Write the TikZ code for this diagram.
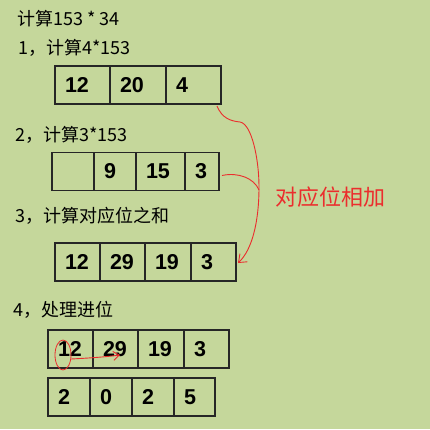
\documentclass[tikz,border=0pt]{standalone}
\usepackage{fontspec}
\newfontfamily\cjkfont{Noto Sans CJK SC}
\newfontfamily\digitfont{Liberation Sans}
\usetikzlibrary{arrows.meta, shapes.geometric, calc}
\definecolor{bgcolor}{RGB}{197,215,155}
\definecolor{markred}{RGB}{235,45,45}

\begin{document}
\begin{tikzpicture}[x=1pt, y=-1pt,
  steptext/.style={anchor=west, inner sep=0pt,
    font=\cjkfont\fontsize{18}{20}\selectfont},
  cell/.style={draw=black!85, line width=1.2pt, anchor=west, outer sep=0pt,
    inner xsep=10pt, inner ysep=0pt, minimum height=38pt, align=left,
    font=\digitfont\bfseries\fontsize{21.5}{23}\selectfont},
  brace/.style={draw=markred, line width=0.9pt},
  tipend/.style={-{Straight Barb[length=7pt, width=11pt]}},
  carrytip/.style={-{Straight Barb[length=6pt, width=9pt]}}
]

%% Hintergrund
\fill[bgcolor] (0,0) rectangle (430,429);
\useasboundingbox (0,0) rectangle (430,429);

%% Texte
\node[steptext] (title) at (17,19) {计算153 * 34};
\node[steptext] (stepa) at (18,47.5) {1，计算4*153};
\node[steptext] (stepb) at (15,135) {2，计算3*153};
\node[steptext] (stepc) at (15,216) {3，计算对应位之和};
\node[steptext] (stepd) at (13.5,310) {4，处理进位};

%% Zeile 1: 4*153
\foreach \a/\b/\t [count=\i] in {55/110/12, 110/166/20, 166/221/4}{
  \pgfmathsetmacro\w{\b-\a-20}
  \node[cell, text width=\w pt] (ra\i) at (\a,85) {\t};
}

%% Zeile 2: 3*153
\foreach \a/\b/\t [count=\i] in {52/94/{}, 94/136/9, 136/185/15, 185/219/3}{
  \pgfmathsetmacro\w{\b-\a-20}
  \node[cell, text width=\w pt] (rb\i) at (\a,171.5) {\t};
}

%% Zeile 3: Summe
\foreach \a/\b/\t [count=\i] in {55/100/12, 100/145/29, 145/191/19, 191/236/3}{
  \pgfmathsetmacro\w{\b-\a-20}
  \node[cell, text width=\w pt] (rc\i) at (\a,262) {\t};
}

%% Zeile 4: vor dem Uebertrag
\foreach \a/\b/\t [count=\i] in {48/93/12, 93/138/29, 138/184/19, 184/229/3}{
  \pgfmathsetmacro\w{\b-\a-20}
  \node[cell, text width=\w pt] (rd\i) at (\a,349) {\t};
}

%% Zeile 5: Ergebnis
\foreach \a/\b/\t [count=\i] in {48/90/2, 90/132/0, 132/174/2, 174/215/5}{
  \pgfmathsetmacro\w{\b-\a-20}
  \node[cell, text width=\w pt] (re\i) at (\a,397) {\t};
}

%% Klammer: Zeile 1 + Zeile 2 -> Zeile 3
\node[anchor=west, inner sep=0pt, text=markred,
  font=\cjkfont\fontsize{22}{24}\selectfont] (addlabel) at (275,197) {对应位相加};
\draw[brace, tipend] ($(ra3.south east)+(-4,2)$)
  .. controls (222,118) and (230,121) .. (240,122)
  .. controls (252,124) and (259,160) .. (259,187)
  .. controls (259,222) and (252,250) .. ($(rc4.east)+(2,1)$);
\draw[brace] ($(rb4.east)+(3,4)$)
  .. controls (238,172) and (254,178) .. (259,190);

%% Uebertrag
\node[draw=markred, line width=0.8pt, ellipse, minimum width=16pt,
  minimum height=30pt, inner sep=0pt] (carry) at (63,355) {};
\draw[brace, carrytip] ($(carry.east)+(-0.5,4)$)
  .. controls (90,358) and (105,357) .. ($(rd2.center)+(4.5,6)$);

\end{tikzpicture}
\end{document}
